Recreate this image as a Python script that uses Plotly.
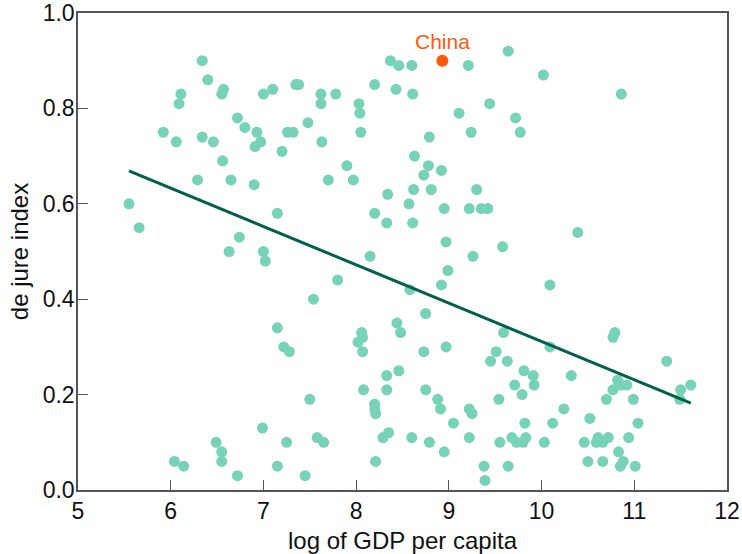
import plotly.graph_objects as go

# log GDP per capita and de jure index for each country
gdp = [6.34, 6.40, 6.11, 6.09, 6.57, 6.55, 7.00, 7.10, 7.35, 7.38, 7.62, 7.62, 6.72, 6.80, 6.93,
       5.92, 6.06, 6.34, 6.46, 6.97, 6.91, 7.26, 7.32, 7.48, 7.63, 7.20, 6.56, 6.29, 6.65, 6.90,
       7.70, 5.55, 5.66, 7.15, 6.74, 6.63, 7.00, 7.02,
       7.54, 7.15, 7.22, 7.28, 7.50, 6.99, 7.58, 7.65, 7.25, 6.49, 6.55, 6.55, 6.04, 6.14, 6.72,
       7.15, 7.45,
       8.37, 8.46, 8.60, 9.21, 9.64, 10.02, 8.20, 8.43, 8.61, 7.78, 8.03, 8.04, 9.44, 9.11, 9.72,
       9.77, 9.24, 8.05, 8.79, 8.63, 7.90, 8.78, 8.73, 8.92, 7.97, 8.34, 8.62, 8.81, 9.30, 8.57,
       8.20, 8.33, 8.61, 8.95, 9.22, 9.35, 9.42, 8.97, 9.58,
       8.15, 9.26, 7.80, 8.99, 8.92, 8.58, 8.75, 8.44, 8.48, 8.06, 8.07, 8.02, 8.07, 8.73, 8.97,
       9.59, 9.51, 9.45, 9.63, 9.81, 9.91, 9.92, 8.46, 8.33, 8.08, 8.33, 8.75, 9.71, 9.79, 9.54,
       8.88, 8.91, 8.20, 8.20, 8.21, 9.22, 9.25, 9.05, 9.82, 8.29, 8.35, 8.60, 8.79, 9.22, 8.95,
       9.55, 9.68, 9.73, 9.80, 9.83, 8.21, 9.38, 9.39, 9.64, 10.03,
       10.86, 10.39,
       10.09, 10.79, 10.77, 10.09, 11.35, 10.32, 10.82, 10.92, 10.77, 10.86, 11.50, 11.49, 11.61,
       10.70, 10.99, 10.24, 10.52, 10.12, 11.04, 10.46, 10.61, 10.59, 10.66, 10.72, 10.94, 10.83,
       10.50, 10.66, 10.88, 10.85, 11.01]
index = [0.90, 0.86, 0.83, 0.81, 0.84, 0.83, 0.83, 0.84, 0.85, 0.85, 0.83, 0.81, 0.78, 0.76, 0.75,
         0.75, 0.73, 0.74, 0.73, 0.73, 0.72, 0.75, 0.75, 0.77, 0.73, 0.71, 0.69, 0.65, 0.65, 0.64,
         0.65, 0.60, 0.55, 0.58, 0.53, 0.50, 0.50, 0.48,
         0.40, 0.34, 0.30, 0.29, 0.19, 0.13, 0.11, 0.10, 0.10, 0.10, 0.08, 0.06, 0.06, 0.05, 0.03,
         0.05, 0.03,
         0.90, 0.89, 0.89, 0.89, 0.92, 0.87, 0.85, 0.84, 0.83, 0.83, 0.81, 0.79, 0.81, 0.79, 0.78,
         0.75, 0.75, 0.75, 0.74, 0.70, 0.68, 0.68, 0.66, 0.67, 0.65, 0.62, 0.63, 0.63, 0.63, 0.60,
         0.58, 0.56, 0.56, 0.59, 0.59, 0.59, 0.59, 0.52, 0.51,
         0.49, 0.49, 0.44, 0.46, 0.43, 0.42, 0.37, 0.35, 0.33, 0.33, 0.32, 0.31, 0.29, 0.29, 0.30,
         0.33, 0.29, 0.27, 0.27, 0.25, 0.24, 0.22, 0.25, 0.24, 0.21, 0.21, 0.21, 0.22, 0.20, 0.19,
         0.19, 0.17, 0.18, 0.17, 0.16, 0.17, 0.16, 0.14, 0.14, 0.11, 0.12, 0.11, 0.10, 0.11, 0.08,
         0.10, 0.11, 0.10, 0.10, 0.11, 0.06, 0.05, 0.02, 0.05, 0.10,
         0.83, 0.54,
         0.43, 0.33, 0.32, 0.30, 0.27, 0.24, 0.23, 0.22, 0.21, 0.22, 0.21, 0.19, 0.22,
         0.19, 0.19, 0.17, 0.15, 0.14, 0.14, 0.10, 0.11, 0.10, 0.10, 0.11, 0.11, 0.08,
         0.06, 0.06, 0.06, 0.05, 0.05]

# highlighted country
china_name = ["China"]
china_gdp = [8.93]
china_index = [0.90]

# fitted line end points
fit_x = [5.55, 11.61]
fit_y = [0.669, 0.182]

# axes ticks
x_ticks = [5, 6, 7, 8, 9, 10, 11, 12]
y_ticks = [0.0, 0.2, 0.4, 0.6, 0.8, 1.0]

FONT = "Liberation Sans, Arial, sans-serif"
POINT = "#77d3b8"
LINE = "#00604c"
ORANGE = "#ff5a0a"
AXIS = "#555555"

fig = go.Figure()
fig.add_trace(go.Scatter(x=gdp, y=index, mode="markers",
                         marker=dict(size=11, color=POINT, line=dict(width=0)),
                         showlegend=False, hoverinfo="x+y"))
fig.add_trace(go.Scatter(x=fit_x, y=fit_y, mode="lines",
                         line=dict(color=LINE, width=3), showlegend=False))
fig.add_trace(go.Scatter(x=china_gdp, y=china_index, mode="markers",
                         marker=dict(size=12, color=ORANGE, line=dict(width=0)),
                         showlegend=False))
fig.add_annotation(x=china_gdp[0], y=china_index[0], text=china_name[0], showarrow=False,
                   yshift=19, font=dict(family=FONT, size=21, color=ORANGE))

axis_common = dict(showgrid=False, zeroline=False, showline=True, mirror=True,
                   linecolor=AXIS, linewidth=1.5, ticks="inside", ticklen=10,
                   tickwidth=1.2, tickcolor=AXIS,
                   tickfont=dict(family=FONT, size=23, color="#111111"))

fig.update_layout(
    width=742, height=554,
    paper_bgcolor="white", plot_bgcolor="white",
    margin=dict(l=78, r=15, t=13, b=64),
    font=dict(family=FONT, color="#111111"),
    xaxis=dict(range=[5, 12], tickvals=x_ticks, ticktext=[str(v) for v in x_ticks],
               title=dict(text="log of GDP per capita", font=dict(family=FONT, size=24, color="#111111"),
                          standoff=11),
               automargin=False, **axis_common),
    yaxis=dict(range=[0, 1.0], tickvals=y_ticks, ticktext=[f"{v:.1f}" for v in y_ticks],
               title=dict(text="de jure index", font=dict(family=FONT, size=24, color="#111111"),
                          standoff=7),
               ticklabelstandoff=-3,
               automargin=False, **axis_common),
)

fig.write_html("out.html",
               config={"displayModeBar": False},
               post_script="document.body.style.margin='0';document.body.style.overflow='hidden';")
